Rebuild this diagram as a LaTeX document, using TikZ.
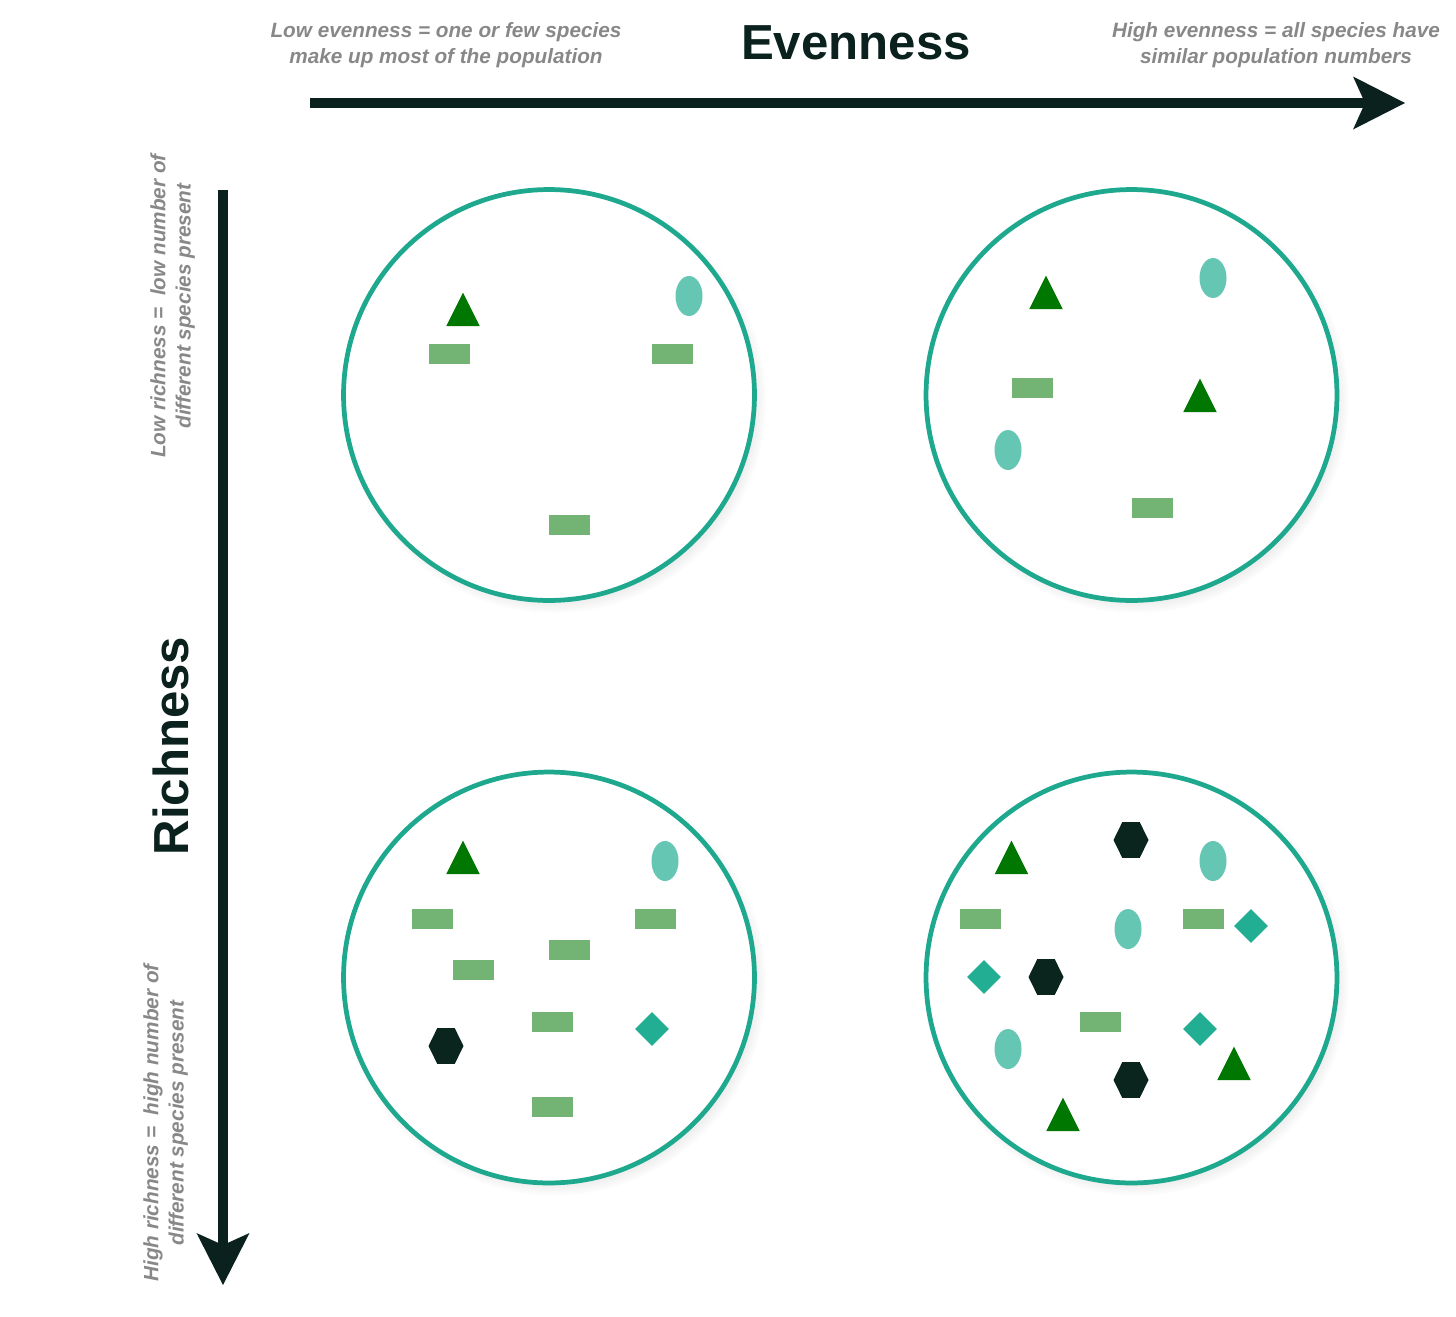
\documentclass[tikz,border=0pt]{standalone}
\usepackage{fontspec}
\setmainfont{Liberation Sans}
\usepackage{xcolor}
\usepackage{tikz}
\usetikzlibrary{arrows.meta,shapes.geometric,shadows}

\definecolor{axis}{HTML}{0A211D}
\definecolor{dishteal}{HTML}{1EA88E}
\definecolor{leafgreen}{HTML}{007700}
\definecolor{bargreen}{HTML}{73B373}
\definecolor{eggteal}{HTML}{64C6B3}
\definecolor{gemteal}{HTML}{21AE92}
\definecolor{hexdark}{HTML}{0A241E}
\definecolor{notegray}{HTML}{888888}

\begin{document}
\begin{tikzpicture}[x=0.02cm,y=-0.02cm,inner sep=0pt]
    \tikzstyle{dish}=[circle,draw=dishteal,line width=2.7pt,fill=white,minimum size=8.22cm,
        circular drop shadow={shadow xshift=2.5pt,shadow yshift=-3pt,shadow scale=1.035,opacity=0.35}]
    \tikzstyle{bar}=[rectangle,fill=bargreen,minimum width=0.82cm,minimum height=0.4cm]
    \tikzstyle{egg}=[ellipse,fill=eggteal,minimum width=0.54cm,minimum height=0.8cm]
    \tikzstyle{gem}=[diamond,fill=gemteal,minimum width=0.68cm,minimum height=0.68cm]
    \tikzstyle{tri}=[regular polygon,regular polygon sides=3,fill=leafgreen,minimum size=0.774cm,yscale=1.155,transform shape]
    \tikzstyle{hex}=[regular polygon,regular polygon sides=6,fill=hexdark,minimum size=0.7cm,yscale=1.18,transform shape]
    \tikzstyle{note}=[font=\bfseries\itshape\fontsize{11.8}{14.3}\selectfont,text=notegray,align=center]
    \tikzstyle{title}=[font=\bfseries\fontsize{28}{32}\selectfont,text=axis]
    \tikzstyle{axisline}=[draw=axis,line width=6pt,-{Stealth[length=1.04cm,width=1.06cm,inset=0.24cm,line width=0pt]}]

    \useasboundingbox (0,0) rectangle (1456,1316);

    % axes
    \coordinate (evL) at (310,103);
    \coordinate (evR) at (1405,103);
    \coordinate (riT) at (223,190);
    \coordinate (riB) at (223,1285);
    \draw[axisline] (evL) -- (evR);
    \draw[axisline] (riT) -- (riB);

    \node[title,anchor=north] (even) at (856,25) {Evenness};
    \node[title,anchor=north,rotate=90] (rich) at (152,746) {Richness};

    \node[note,anchor=north] (evlow) at (446,22.5) {Low evenness = one or few species\\make up most of the population};
    \node[note,anchor=north] (evhigh) at (1276,22.5) {High evenness = all species have\\similar population numbers};
    \node[note,anchor=north,rotate=90] (rilow) at (150,306) {Low richness =\ \ low number of\\different species present};
    \node[note,anchor=north,rotate=90] (rihigh) at (143,1123) {High richness =\ \ high number of\\different species present};

    % the four samples
    \foreach \n/\x/\y in {1/549/395, 2/1131.5/395, 3/549/977.5, 4/1131.5/977.5} {
        \node[dish] (dish\n) at (\x,\y) {};
    };

    \foreach \x/\y [count=\n] in {449.5/354, 672/354, 569.5/525, 1032/388, 1152/508,
        432/919, 655/919, 569/950, 473/970, 552/1022, 552/1107,
        980/919, 1203/919, 1100/1022} {
        \node[bar] (bar\n) at (\x,\y) {};
    };

    \foreach \x/\y [count=\n] in {689/296, 1213/278, 1008/450, 665/861,
        1213/861, 1128/929, 1008/1049} {
        \node[egg] (egg\n) at (\x,\y) {};
    };

    \foreach \x/\y [count=\n] in {463/315, 1046/298, 1200/401, 463/863,
        1011.5/863, 1234/1069, 1063/1120} {
        \node[tri] (tri\n) at (\x,\y) {};
    };

    \foreach \x/\y [count=\n] in {652/1029, 1251/926, 984/977, 1200/1029} {
        \node[gem] (gem\n) at (\x,\y) {};
    };

    \foreach \x/\y [count=\n] in {446/1046, 1131/840, 1046/977, 1131/1080} {
        \node[hex] (hex\n) at (\x,\y) {};
    };
\end{tikzpicture}
\end{document}
